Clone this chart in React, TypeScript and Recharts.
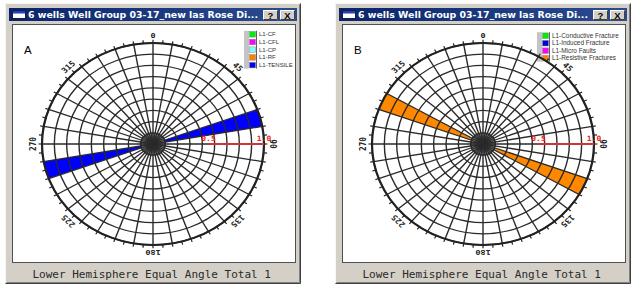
import React from "react";
import {
  RadialBarChart, RadialBar, RadarChart, Radar,
  PolarGrid, PolarAngleAxis, PolarRadiusAxis,
} from "recharts";

// 10° azimuth bins of the rose (start of each bin)
const BINS = [
  0, 10, 20, 30, 40, 50, 60, 70, 80, 90, 100, 110, 120, 130, 140, 150, 160, 170,
  180, 190, 200, 210, 220, 230, 240, 250, 260, 270, 280, 290, 300, 310, 320, 330, 340, 350,
];
// fraction of the total per bin (one fracture, plotted both ways)
const ROSE_A = [
  0, 0, 0, 0, 0, 0, 0, 1, 0, 0, 0, 0, 0, 0, 0, 0, 0, 0,
  0, 0, 0, 0, 0, 0, 0, 1, 0, 0, 0, 0, 0, 0, 0, 0, 0, 0,
];
const ROSE_B = [
  0, 0, 0, 0, 0, 0, 0, 0, 0, 0, 0, 1, 0, 0, 0, 0, 0, 0,
  0, 0, 0, 0, 0, 0, 0, 0, 0, 0, 0, 1, 0, 0, 0, 0, 0, 0,
];

// compass axis: tick every 5°, label every 45°
const COMPASS_STEPS = Array.from({ length: 72 }, (_, i) => i * 5);
const COMPASS_LABELS = [0, 45, 90, 135, 180, 225, 270, 315];
const SPOKE_STEP = 10;
const RING_COUNT = 9;
const RADIUS_TICKS = [0.5, 1.0];

const LEGEND_A_NAMES = ["L1-CF", "L1-CFL", "L1-CP", "L1-RF", "L1-TENSILE"];
const LEGEND_A_COLORS = ["#00ee00", "#ff00ff", "#80ffff", "#ff8000", "#0000ff"];
const LEGEND_B_NAMES = ["L1-Conductive Fracture", "L1-Induced Fracture", "L1-Micro Faults", "L1-Resistive Fractures"];
const LEGEND_B_COLORS = ["#00ee00", "#0000e0", "#ff00ff", "#ff8000"];

const TITLE = "6 wells Well Group 03-17_new las Rose Di...";
const STATUS = "Lower Hemisphere Equal Angle Total 1";

const SIZE = 270;
const C = SIZE / 2;
const R = 111;
const SQUISH = 0.91;

const spokes = Array.from({ length: 360 / SPOKE_STEP }, (_, i) => 90 - i * SPOKE_STEP);
const rings = Array.from({ length: RING_COUNT }, (_, i) => ((i + 1) / RING_COUNT) * R);
const compassData = COMPASS_STEPS.map((az) => ({ az, zero: 0 }));

function CompassTick(props: any) {
  const az = Number(props.payload?.value);
  if (!COMPASS_LABELS.includes(az)) return <g />;
  const rad = (az * Math.PI) / 180;
  const r = R + 9;
  const x = C + r * Math.sin(rad);
  const y = C - r * Math.cos(rad);
  return (
    <text x={x} y={y} textAnchor="middle" dominantBaseline="central"
      transform={`rotate(${az} ${x} ${y})`}
      fontFamily="DejaVu Sans Mono" fontWeight="bold" fontSize={8.5} fill="#222">
      {az}
    </text>
  );
}

function RadiusTick(props: any) {
  const v = Number(props.payload?.value);
  return (
    <text x={props.x} y={props.y - 3} textAnchor="middle"
      fontFamily="DejaVu Sans Mono" fontWeight="bold" fontSize={8} fill="#ee2222">
      {v.toFixed(1)}
    </text>
  );
}

function Rose({ counts, color, left }: { counts: number[]; color: string; left: number }) {
  const data = BINS.map((bin, i) => ({ bin, count: counts[i] }));
  const layer: React.CSSProperties = { position: "absolute", left: 0, top: 0 };
  return (
    <div style={{
      position: "absolute", left: left - C, top: 143.75 - C, width: SIZE, height: SIZE,
      transform: `scaleY(${SQUISH})`, transformOrigin: "center",
    }}>
      <div style={layer}>
        {/* band placement in centric layout lands one bin early, so start one bin later */}
        <RadialBarChart width={SIZE} height={SIZE} cx={C} cy={C} innerRadius={0} outerRadius={R}
          startAngle={90 - SPOKE_STEP} endAngle={-270 - SPOKE_STEP} layout="centric" data={data}
          barCategoryGap={0} barGap={0} margin={{ top: 0, right: 0, bottom: 0, left: 0 }}>
          <PolarAngleAxis type="category" dataKey="bin" tick={false} axisLine={false} tickLine={false} />
          <PolarRadiusAxis type="number" domain={[0, 1]} tick={false} axisLine={false} />
          <RadialBar dataKey="count" fill={color} isAnimationActive={false} />
        </RadialBarChart>
      </div>
      <svg style={layer} width={SIZE} height={SIZE}>
        <defs>
          <radialGradient id={`disc${left}`}>
            <stop offset="0%" stopColor="#1a1a1a" />
            <stop offset="55%" stopColor="#666" />
            <stop offset="100%" stopColor="#aaa" />
          </radialGradient>
        </defs>
        <circle cx={C} cy={C} r={12} fill={`url(#disc${left})`} stroke="#444" strokeWidth={1} />
      </svg>
      <div style={layer}>
        <RadarChart width={SIZE} height={SIZE} cx={C} cy={C} innerRadius={0} outerRadius={R}
          startAngle={90} endAngle={-270} data={compassData}
          margin={{ top: 0, right: 0, bottom: 0, left: 0 }}>
          <PolarGrid gridType="circle" polarAngles={spokes} polarRadius={rings}
            stroke="#2a2a2a" strokeWidth={1.4} />
          <PolarAngleAxis dataKey="az" type="category" axisLineType="circle"
            axisLine={{ stroke: "#222", strokeWidth: 2.2 }}
            tickLine={{ stroke: "#222", strokeWidth: 1.2 }} tickSize={3.5}
            tick={<CompassTick />} />
          <PolarRadiusAxis angle={0} type="number" domain={[0, 1]} ticks={RADIUS_TICKS}
            stroke="#c83030" axisLine={{ stroke: "#c83838", strokeWidth: 2 }}
            tick={<RadiusTick />} />
          <Radar dataKey="zero" stroke="none" fill="none" dot={false} isAnimationActive={false} />
        </RadarChart>
      </div>
    </div>
  );
}

function Chrome({ dx, letter, names, colors, legendX, legendY, step, legendFont }: {
  dx: number; letter: string; names: string[]; colors: string[];
  legendX: number; legendY: number; step: number; legendFont: number;
}) {
  const boxTop = legendY - 3.5;
  const boxH = (names.length - 1) * step + 7;
  return (
    <g transform={`translate(${dx} 0)`}>
      <rect x={5} y={3} width={296} height={281} fill="#d4d0c8" />
      <path d="M5.5 283.5 V3.5 H300.5" stroke="#f6f6f6" fill="none" />
      <path d="M5.5 283.5 H300.5 V3.5" stroke="#404040" fill="none" />
      <path d="M6.5 282.5 H299.5 V4.5" stroke="#808080" fill="none" />
      <rect x={9} y={8} width={288} height={13} fill="url(#titlebar)" />
      <rect x={12.5} y={10.5} width={13} height={8} fill="#fff" stroke="#1a1a3a" />
      <rect x={13} y={11} width={12} height={2.5} fill="#2040c0" />
      <text x={28} y={18.3} fill="#fff" fontFamily="DejaVu Sans" fontWeight="bold" fontSize={9.4}
        textLength={230} lengthAdjust="spacingAndGlyphs">
        {TITLE}
      </text>
      {["?", "X"].map((g, i) => (
        <g key={g}>
          <rect x={263 + i * 17} y={10} width={15} height={10} fill="#d4d0c8" />
          <path d={`M${263 + i * 17 + 0.5} ${19.5} V10.5 H${277.5 + i * 17}`} stroke="#fff" fill="none" />
          <path d={`M${263 + i * 17 + 0.5} ${19.5} H${277.5 + i * 17} V10.5`} stroke="#404040" fill="none" />
          <text x={270.5 + i * 17} y={18.5} textAnchor="middle" fontFamily="Liberation Sans"
            fontWeight="bold" fontSize={9.5} fill="#000">{g}</text>
        </g>
      ))}
      <rect x={12.5} y={24.5} width={283} height={238} fill="#fff" stroke="#505050" />
      <text x={151.7} y={277.5} textAnchor="middle" fontFamily="DejaVu Sans Mono" fontSize={11} fill="#2a2a2a">
        {STATUS}
      </text>
      <text x={24} y={54.3} fontFamily="Liberation Sans" fontSize={11.5} fill="#000">{letter}</text>
      <rect x={legendX} y={boxTop} width={5} height={boxH} fill="#c4c4c4" />
      <line x1={legendX + 12.5} y1={boxTop} x2={legendX + 12.5} y2={boxTop + boxH} stroke="#606060" />
      {names.map((n, i) => (
        <g key={n}>
          <rect x={legendX + 5.5} y={legendY + i * step - 2.8} width={6} height={5.6}
            fill={colors[i]} stroke="#888" strokeWidth={0.5} />
          <text x={legendX + 15} y={legendY + i * step + 2} fontFamily="Liberation Sans"
            fontSize={legendFont} fill="#333">{n}</text>
        </g>
      ))}
    </g>
  );
}

export default function App() {
  return (
    <div style={{ position: "absolute", left: 0, top: 0, width: 633, height: 287, background: "#fff", overflow: "hidden" }}>
      <svg width={633} height={287} style={{ position: "absolute", left: 0, top: 0 }}>
        <defs>
          <linearGradient id="titlebar" x1="0" x2="1" y1="0" y2="0">
            <stop offset="0%" stopColor="#0a246a" />
            <stop offset="100%" stopColor="#2a4c90" />
          </linearGradient>
        </defs>
        <Chrome dx={0} letter="A" names={LEGEND_A_NAMES} colors={LEGEND_A_COLORS}
          legendX={244} legendY={34.3} step={7.7} legendFont={6} />
        <Chrome dx={330} letter="B" names={LEGEND_B_NAMES} colors={LEGEND_B_COLORS}
          legendX={207} legendY={35.7} step={7.5} legendFont={6.4} />
      </svg>
      <Rose counts={ROSE_A} color="#0000ff" left={152.5} />
      <Rose counts={ROSE_B} color="#ff8800" left={483.3} />
    </div>
  );
}
